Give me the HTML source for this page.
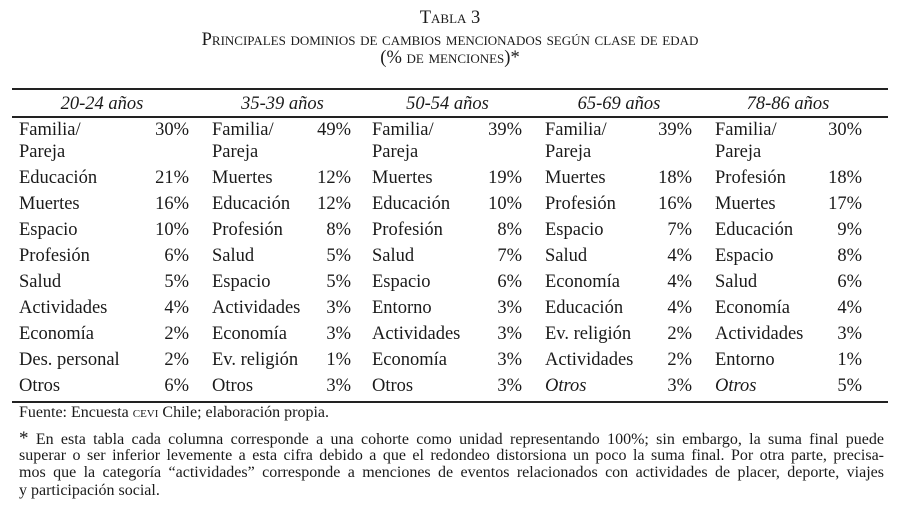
<!DOCTYPE html>
<html><head><meta charset="utf-8"><style>
body{margin:0;width:900px;height:517px;background:#fff;position:relative;overflow:hidden;font-family:"Liberation Serif",serif;color:#1a1a1a}
.a{position:absolute;white-space:nowrap;line-height:20px;font-size:18.5px}
.r{text-align:right}
.t{position:absolute;left:0;width:900px;text-align:center;font-variant:small-caps;font-size:18.5px;line-height:18px}
.h{position:absolute;font-style:italic;font-size:18.5px;line-height:20px;text-align:center;top:94px}
.f{position:absolute;left:19px;width:865px;font-size:16px;line-height:17px;white-space:nowrap}
.j{text-align:justify;text-align-last:justify}
.rule{position:absolute;left:12px;width:876px;background:#222}
</style></head><body>
<div class="t" style="top:9px">Tabla 3</div>
<div class="t" style="top:31px">Principales dominios de cambios mencionados según clase de edad</div>
<div class="t" style="top:49px">(% de menciones)*</div>
<div class="rule" style="top:88px;height:2px"></div>
<div class="rule" style="top:116px;height:2px"></div>
<div class="rule" style="top:401px;height:2px"></div>
<div class="h" style="left:12px;width:180px">20-24 años</div>
<div class="h" style="left:205px;width:155px">35-39 años</div>
<div class="h" style="left:365px;width:165px">50-54 años</div>
<div class="h" style="left:538px;width:162px">65-69 años</div>
<div class="h" style="left:708px;width:160px">78-86 años</div>
<div id="rows"></div>
<div class="f" style="top:404px">Fuente: Encuesta <span style="font-variant:small-caps">cevi</span> Chile; elaboración propia.</div>
<div class="f j" style="top:430px"><span style="font-size:19px">*</span> En esta tabla cada columna corresponde a una cohorte como unidad representando 100%; sin embargo, la suma final puede</div>
<div class="f j" style="top:447px">superar o ser inferior levemente a esta cifra debido a que el redondeo distorsiona un poco la suma final. Por otra parte, precisa-</div>
<div class="f j" style="top:464px">mos que la categoría “actividades” corresponde a menciones de eventos relacionados con actividades de placer, deporte, viajes</div>
<div class="f" style="top:482px">y participación social.</div>
<script>
var cols=[
[19,189,[["Familia/","30%"],["Educación","21%"],["Muertes","16%"],["Espacio","10%"],["Profesión","6%"],["Salud","5%"],["Actividades","4%"],["Economía","2%"],["Des. personal","2%"],["Otros","6%"]]],
[212,351,[["Familia/","49%"],["Muertes","12%"],["Educación","12%"],["Profesión","8%"],["Salud","5%"],["Espacio","5%"],["Actividades","3%"],["Economía","3%"],["Ev. religión","1%"],["Otros","3%"]]],
[372,522,[["Familia/","39%"],["Muertes","19%"],["Educación","10%"],["Profesión","8%"],["Salud","7%"],["Espacio","6%"],["Entorno","3%"],["Actividades","3%"],["Economía","3%"],["Otros","3%"]]],
[545,692,[["Familia/","39%"],["Muertes","18%"],["Profesión","16%"],["Espacio","7%"],["Salud","4%"],["Economía","4%"],["Educación","4%"],["Ev. religión","2%"],["Actividades","2%"],["<i>Otros</i>","3%"]]],
[715,862,[["Familia/","30%"],["Profesión","18%"],["Muertes","17%"],["Educación","9%"],["Espacio","8%"],["Salud","6%"],["Economía","4%"],["Actividades","3%"],["Entorno","1%"],["<i>Otros</i>","5%"]]]];
var h="";
cols.forEach(function(c){
 c[2].forEach(function(r,i){
  var y=i==0?120:(168+(i-1)*26);
  h+='<div class="a" style="left:'+c[0]+'px;top:'+y+'px">'+r[0]+'</div>';
  h+='<div class="a r" style="left:'+(c[1]-60)+'px;width:60px;top:'+y+'px">'+r[1]+'</div>';
  if(i==0)h+='<div class="a" style="left:'+c[0]+'px;top:142px">Pareja</div>';
 });
});
document.getElementById("rows").innerHTML=h;
</script>
</body></html>
